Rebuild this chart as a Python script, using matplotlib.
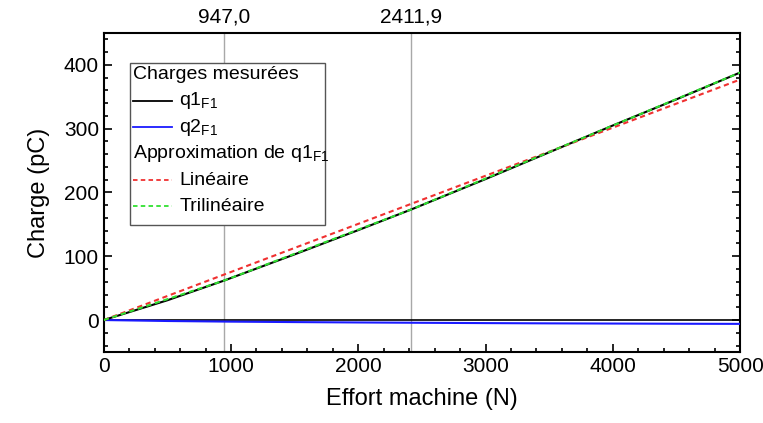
import numpy as np
import matplotlib.pyplot as plt
from matplotlib.lines import Line2D
from matplotlib.patches import Rectangle
from matplotlib.ticker import MultipleLocator

plt.rcParams['font.family'] = ['Liberation Sans', 'DejaVu Sans']

# measured charge q1 (pC) vs machine force (N)
force_q1 = [0, 500, 947, 1500, 2000, 2411.9, 3000, 3500, 4000, 4500, 5000]
q1 = [0, 31, 62, 103, 141, 173, 221, 263, 305, 346, 388]

# measured charge q2
force_q2 = [0, 500, 1000, 1500, 2000, 2500, 3000, 3500, 4000, 4500, 5000]
q2 = [0, -1.5, -2.5, -3.2, -3.8, -4.3, -4.8, -5.2, -5.5, -5.8, -6.0]

# approximations of q1
force_lin = [0, 5000]
q1_lin = [0, 377]
force_tri = [0, 947.0, 2411.9, 5000]
q1_tri = [0, 62, 173, 388]

breaks = [947.0, 2411.9]
break_labels = ["947,0", "2411,9"]

fig = plt.figure(figsize=(7.63, 4.23), dpi=100)
ax = fig.add_axes([0.136, 0.168, 0.834, 0.754])

for b in breaks:
    ax.axvline(b, color="#a8a8a8", lw=1.0, zorder=1)
ax.axhline(0, color="black", lw=1.2, zorder=2)

ax.plot(force_q2, q2, color="#1a1aff", lw=1.5, zorder=3)
ax.plot(force_q1, q1, color="black", lw=1.5, zorder=3)
ax.plot(force_lin, q1_lin, color="#f03030", lw=1.5, ls=(0, (2.5, 1.8)), zorder=4)
ax.plot(force_tri, q1_tri, color="#30e030", lw=1.5, ls=(0, (2.5, 1.8)), zorder=5)

ax.set_xlim(0, 5000)
ax.set_ylim(-50, 450)
ax.xaxis.set_major_locator(MultipleLocator(1000))
ax.xaxis.set_minor_locator(MultipleLocator(200))
ax.set_yticks([0, 100, 200, 300, 400])
ax.yaxis.set_minor_locator(MultipleLocator(20))
ax.tick_params(which="both", direction="in", top=True, right=True, width=1.2, labelsize=15)
ax.tick_params(which="major", length=6)
ax.tick_params(which="minor", length=3)
for s in ax.spines.values():
    s.set_linewidth(1.5)

ax.set_xlabel("Effort machine (N)", fontsize=17, labelpad=9)
ax.set_ylabel("Charge (pC)", fontsize=17, labelpad=10)

top = ax.twiny()
top.set_xlim(ax.get_xlim())
top.set_xticks(breaks)
top.set_xticklabels(break_labels)
top.tick_params(length=0, labelsize=15, pad=5)
top.spines[:].set_visible(False)

# legend box drawn by hand (section headers without handles)
lx0, ly0, lw, lh = 0.041, 0.398, 0.306, 0.508
ax.add_patch(Rectangle((lx0, ly0), lw, lh, transform=ax.transAxes, fill=True,
                       facecolor="white", edgecolor="#555555", lw=1.0, zorder=6))
rows = [
    ("Charges mesurées", None, None),
    (r"q1$_{\mathregular{F1}}$", "black", "-"),
    (r"q2$_{\mathregular{F1}}$", "#1a1aff", "-"),
    (r"Approximation de q1$_{\mathregular{F1}}$", None, None),
    ("Linéaire", "#f03030", (0, (2.5, 1.8))),
    ("Trilinéaire", "#30e030", (0, (2.5, 1.8))),
]
dy = 0.083
for i, (txt, col, ls) in enumerate(rows):
    y = ly0 + lh - 0.035 - dy * i
    if col is None:
        ax.text(lx0 + 0.005, y, txt, transform=ax.transAxes, fontsize=14,
                va="center", ha="left", zorder=7)
    else:
        ax.add_line(Line2D([lx0 + 0.005, lx0 + 0.066], [y, y], transform=ax.transAxes,
                           color=col, lw=1.3, ls=ls, zorder=7))
        ax.text(lx0 + 0.078, y, txt, transform=ax.transAxes, fontsize=14,
                va="center", ha="left", zorder=7)

fig.savefig("out.png", dpi=100)
